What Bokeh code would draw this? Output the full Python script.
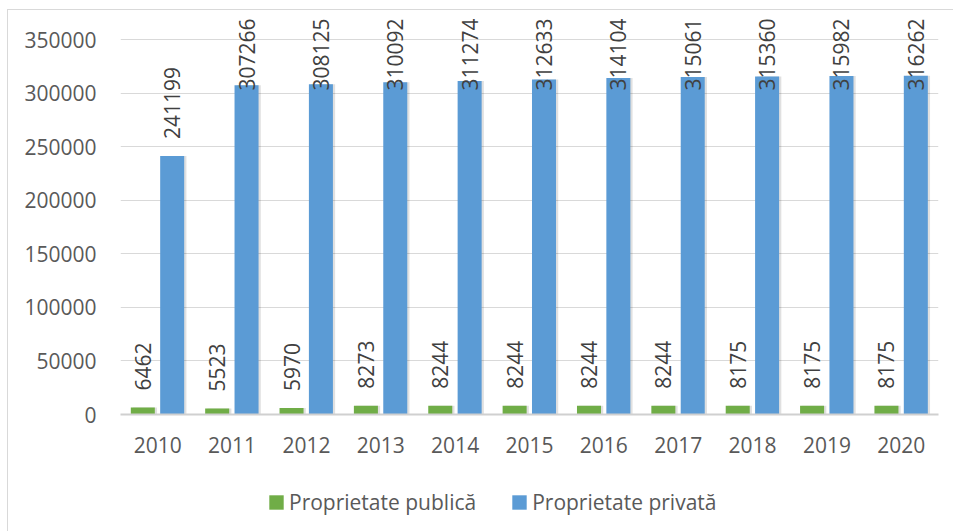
import math
from bokeh.plotting import figure
from bokeh.layouts import column
from bokeh.models import (ColumnDataSource, FactorRange, Range1d, FixedTicker,
                          Legend, LegendItem, NumeralTickFormatter)
from bokeh.transform import dodge
from bokeh.core.properties import value
from bokeh.embed import file_html
from bokeh.resources import INLINE

years = ["2010", "2011", "2012", "2013", "2014", "2015", "2016", "2017", "2018", "2019", "2020"]
publica = [6462, 5523, 5970, 8273, 8244, 8244, 8244, 8244, 8175, 8175, 8175]
privata = [241199, 307266, 308125, 310092, 311274, 312633, 314104, 315061, 315360, 315982, 316262]
y_ticks = [0, 50000, 100000, 150000, 200000, 250000, 300000, 350000]
series_names = ["Proprietate publică", "Proprietate privată"]
colors = ["#70ad47", "#5b9bd5"]

FONT = "Open Sans"
LABEL_CAP = 286500  # labels are kept inside the chart area

src = ColumnDataSource(dict(
    year=years,
    pub=publica,
    priv=privata,
    pub_txt=[str(v) for v in publica],
    priv_txt=[str(v) for v in privata],
    priv_lab=[min(v, LABEL_CAP) for v in privata],
))

p = figure(width=945, height=460, output_backend="svg", toolbar_location=None,
           x_range=FactorRange(*years, range_padding=0),
           y_range=Range1d(0, 371467),
           min_border_left=112, min_border_right=15, min_border_top=6, min_border_bottom=56)
p.outline_line_color = None
p.background_fill_color = "white"

# shadows
p.vbar(x=dodge("year", -0.17, range=p.x_range), top="pub", width=0.323, source=src,
       fill_color="black", fill_alpha=0.12, line_color=None)
p.vbar(x=dodge("year", 0.225, range=p.x_range), top="priv", width=0.323, source=src,
       fill_color="black", fill_alpha=0.12, line_color=None)

p.vbar(x=dodge("year", -0.2, range=p.x_range), top="pub", width=0.323, source=src,
       fill_color=colors[0], line_color=None)
p.vbar(x=dodge("year", 0.195, range=p.x_range), top="priv", width=0.323, source=src,
       fill_color=colors[1], line_color=None)

p.text(x=dodge("year", -0.2, range=p.x_range), y="pub", text="pub_txt", source=src,
       angle=math.pi / 2, text_align="left", text_baseline="middle", y_offset=-17,
       text_font=value(FONT), text_font_size="21px", text_color="#404040")
p.text(x=dodge("year", 0.195, range=p.x_range), y="priv_lab", text="priv_txt", source=src,
       angle=math.pi / 2, text_align="left", text_baseline="middle", y_offset=-17,
       text_font=value(FONT), text_font_size="21px", text_color="#404040")

p.yaxis.ticker = FixedTicker(ticks=y_ticks)
p.yaxis.formatter = NumeralTickFormatter(format="0")
p.yaxis.axis_line_color = None
p.yaxis.major_tick_line_color = None
p.yaxis.minor_tick_line_color = None
p.yaxis.major_label_standoff = 18
p.yaxis.major_label_text_font = FONT
p.yaxis.major_label_text_font_size = "21px"
p.yaxis.major_label_text_color = "#595959"

p.xaxis.axis_line_color = "#d0d0d0"
p.xaxis.axis_line_width = 2
p.xaxis.major_tick_line_color = None
p.xaxis.minor_tick_line_color = None
p.xaxis.major_label_standoff = 16
p.xaxis.major_label_text_font = FONT
p.xaxis.major_label_text_font_size = "21px"
p.xaxis.major_label_text_color = "#595959"

p.xgrid.grid_line_color = None
p.ygrid.ticker = FixedTicker(ticks=y_ticks)
p.ygrid.grid_line_color = "#d9d9d9"
p.ygrid.grid_line_width = 1

# legend strip (its swatches come from two zero-size, out-of-view bars)
lg = figure(width=945, height=61, output_backend="svg", toolbar_location=None,
            x_range=Range1d(0, 1), y_range=Range1d(0, 1),
            x_axis_location=None, y_axis_location=None,
            min_border_left=0, min_border_right=0, min_border_top=0, min_border_bottom=0)
lg.outline_line_color = None
lg.xgrid.visible = False
lg.ygrid.visible = False
d_pub = lg.vbar(x=[0.5], bottom=[-5], top=[-5], width=0, fill_color=colors[0], line_color=None)
d_priv = lg.vbar(x=[0.5], bottom=[-5], top=[-5], width=0, fill_color=colors[1], line_color=None)
legend = Legend(items=[LegendItem(label=series_names[0], renderers=[d_pub]),
                       LegendItem(label=series_names[1], renderers=[d_priv])],
                location=(147, 15), orientation="horizontal",
                glyph_width=18, glyph_height=18, label_standoff=4, spacing=34,
                label_text_font=FONT, label_text_font_size="21px", label_text_color="#595959",
                border_line_color=None, background_fill_alpha=0, padding=0, margin=0)
lg.add_layout(legend, "center")

layout = column(p, lg, spacing=0)
layout.styles = {"margin-left": "7px", "margin-top": "9px",
                 "border-left": "1px solid #d9d9d9", "border-top": "1px solid #d9d9d9"}

open("out.html", "w").write(file_html(layout, INLINE))
